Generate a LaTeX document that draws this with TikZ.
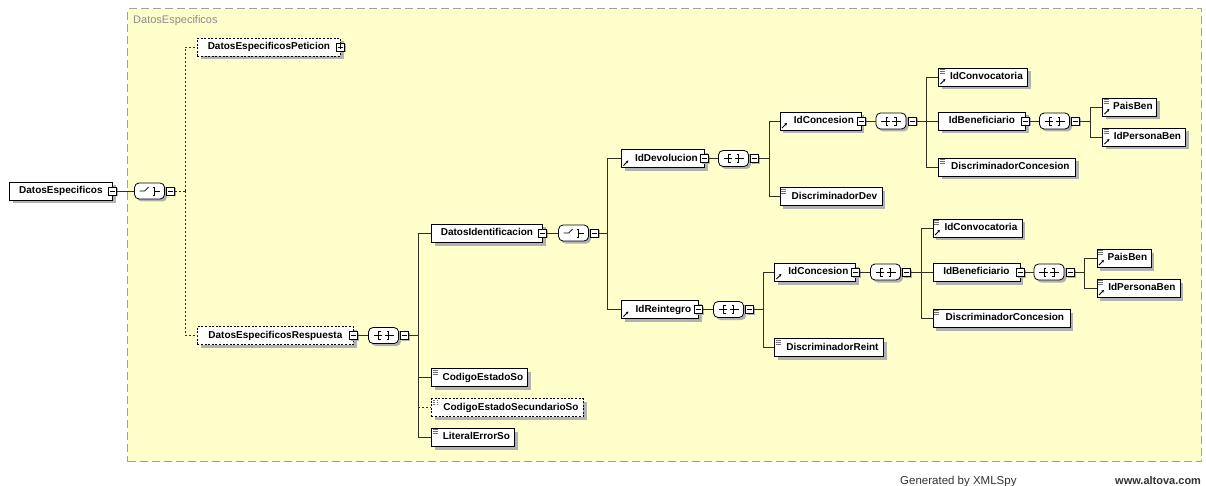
\documentclass[tikz,border=0pt]{standalone}
\usepackage{fontspec}
\setmainfont{Liberation Sans}
\usepackage{tikz}
\usetikzlibrary{positioning,shadows,arrows.meta}
\definecolor{XSDYellow}{RGB}{255,255,204}
\definecolor{XSDFrame}{RGB}{160,160,160}
\definecolor{XSDShadow}{RGB}{178,178,178}
\definecolor{XSDLine}{RGB}{48,48,40}
\definecolor{XSDTitle}{RGB}{140,140,140}
\definecolor{XSDFoot}{RGB}{50,50,50}

% iconos de las cajas
\newcommand{\simpleicon}{%
  \draw[XSDFrame!70!black, line width=0.7pt] (path picture bounding box.north west)
    ++(1.5,1.5) -- ++(5,0) ++(-5,2) -- ++(5,0) ++(-5,2) -- ++(5,0);}
\newcommand{\reficon}{%
  \draw[black, line width=0.9pt, -{Stealth[length=2.6pt,width=2.8pt]}]
    (path picture bounding box.south west) ++(2,-2) -- ++(5,-5);}
% simbolos de compositor
\newcommand{\seqicon}{%
  \coordinate (sc) at (path picture bounding box.center);
  \draw[sharp corners, line width=0.7pt] (sc) +(-10,0) -- +(10,0);
  \draw[sharp corners, line width=0.7pt] (sc) +(-3,-4) -- +(-5,-4) -- +(-5,4) -- +(-3,4);
  \draw[sharp corners, line width=0.7pt] (sc) +(3,-4) -- +(5,-4) -- +(5,4) -- +(3,4);
  \fill[sharp corners] (sc) +(-1.1,-4.2) rectangle +(1.1,-2.0);
  \fill[sharp corners] (sc) +(-1.1,-1.1) rectangle +(1.1,1.1);
  \fill[sharp corners] (sc) +(-1.1,2.0) rectangle +(1.1,4.2);}
\newcommand{\choiceicon}{%
  \coordinate (sc) at (path picture bounding box.center);
  \draw[sharp corners, line width=0.7pt] (sc) +(-10,0) -- +(-5,0) -- +(-1,-4);
  \draw[sharp corners, line width=0.7pt] (sc) +(3,-4) -- +(5,-4) -- +(5,4) -- +(3,4);
  \draw[sharp corners, line width=0.7pt] (sc) +(5,0) -- +(10,0);
  \fill[sharp corners] (sc) +(0.4,-4.2) rectangle +(2.6,-2.0);
  \fill[sharp corners] (sc) +(0.4,-1.1) rectangle +(2.6,1.1);
  \fill[sharp corners] (sc) +(0.4,2.0) rectangle +(2.6,4.2);}

\tikzset{
    elem/.style={draw=black, fill=white, line width=0.8pt, anchor=west,
        minimum height=18pt, inner sep=0pt, text height=7.4pt, text depth=2pt,
        font=\bfseries\fontsize{10}{12}\selectfont,
        general shadow={fill=XSDShadow, shadow xshift=3.5pt, shadow yshift=-3.5pt}},
    optelem/.style={elem, dash pattern=on 2pt off 1.6pt},
    simpleel/.style={path picture={\simpleicon}, execute at begin node={\hspace*{7pt}}},
    refel/.style={path picture={\reficon}, execute at begin node={\hspace*{7pt}}},
    simplerefel/.style={path picture={\simpleicon\reficon}, execute at begin node={\hspace*{7pt}}},
    mbox/.style={draw=black, fill=white, line width=0.7pt, minimum size=8pt, inner sep=0pt,
        general shadow={fill=XSDShadow, shadow xshift=1.5pt, shadow yshift=-1.5pt},
        path picture={\draw[line width=0.7pt] (path picture bounding box.center) +(-2.5,0) -- +(2.5,0);}},
    pbox/.style={mbox,
        path picture={\draw[line width=0.7pt] (path picture bounding box.center)
            +(-2.5,0) -- +(2.5,0) +(0,-2.5) -- +(0,2.5);}},
    comp/.style={rectangle, rounded corners=4.5pt,
        draw=black, fill=white, line width=0.8pt, minimum width=30pt, minimum height=16pt, inner sep=0pt,
        general shadow={fill=XSDShadow, shadow xshift=2.5pt, shadow yshift=-2.5pt}},
    seqcomp/.style={comp, path picture={\seqicon}},
    choicecomp/.style={comp, path picture={\choiceicon}},
    groupbox/.style={draw=XSDFrame, fill=XSDYellow, line width=1.2pt, dash pattern=on 8pt off 4pt, inner sep=0pt},
    grouptitle/.style={anchor=base west, inner sep=0pt, text=XSDTitle, font=\fontsize{11}{12}\selectfont},
    footer/.style={anchor=base west, inner sep=0pt, text=XSDFoot, font=\fontsize{11.5}{13}\selectfont}
}

\begin{document}
\begin{tikzpicture}[x=1pt, y=-1pt,
        link/.style={draw=XSDLine, line width=0.8pt},
        optlink/.style={link, dash pattern=on 2pt off 2pt}]

    \useasboundingbox (0,0) rectangle (1206,486);

    % --- CAJA DEL TIPO ---
    \node[groupbox, anchor=north west, minimum width=1074pt, minimum height=453pt] (grp) at (127,8) {};
    \node[grouptitle] (grpname) at (133,24) {DatosEspecificos};

    % --- RAIZ ---
    \node[elem, minimum width=103pt] (root) at (9,191) {DatosEspecificos};
    \node[mbox] (rootm) at (root.east) {};
    \node[choicecomp, right=17pt of rootm] (rootc) {};
    \node[mbox, right=1.5pt of rootc] (rootcm) {};

    \node[optelem, minimum width=143pt] (pet) at (197,47) {DatosEspecificosPeticion};
    \node[pbox] (petp) at (pet.east) {};
    \node[optelem, minimum width=156pt] (resp) at (197,335.5) {DatosEspecificosRespuesta};
    \node[mbox] (respm) at (resp.east) {};
    \node[seqcomp, right=10pt of respm] (respc) {};
    \node[mbox, right=1.5pt of respc] (respcm) {};

    % --- HIJOS DE LA RESPUESTA ---
    \node[elem, minimum width=111pt] (ident) at (431,233) {DatosIdentificacion};
    \node[mbox] (identm) at (ident.east) {};
    \node[choicecomp, right=11pt of identm] (identc) {};
    \node[mbox, right=1.5pt of identc] (identcm) {};
    \node[elem, simpleel, minimum width=96pt] (codEst) at (431,377.7) {CodigoEstadoSo};
    \node[optelem, simpleel, minimum width=152pt] (codSec) at (431,407.5) {CodigoEstadoSecundarioSo};
    \node[elem, simpleel, minimum width=83pt] (litErr) at (431,437.2) {LiteralErrorSo};

    % --- DEVOLUCION / REINTEGRO ---
    \node[elem, refel, minimum width=83pt] (dev) at (621,158.5) {IdDevolucion};
    \node[mbox] (devm) at (dev.east) {};
    \node[seqcomp, right=9pt of devm] (devc) {};
    \node[mbox, right=1.5pt of devc] (devcm) {};
    \node[elem, simpleel, minimum width=102pt] (discDev) at (779.5,196.7) {DiscriminadorDev};

    \node[elem, refel, minimum width=77pt] (reint) at (621,309.5) {IdReintegro};
    \node[mbox] (reintm) at (reint.east) {};
    \node[seqcomp, right=10pt of reintm] (reintc) {};
    \node[mbox, right=1.5pt of reintc] (reintcm) {};
    \node[elem, simpleel, minimum width=109pt] (discReint) at (774,347.5) {DiscriminadorReint};

    % --- IdConcesion (dos veces) ---
    \foreach \s/\dx/\dy in {A/0/0, B/-5.5/151} {
        \begin{scope}[shift={(\dx,\dy)}]
            \node[elem, refel, minimum width=81pt] (conc\s) at (779.5,121) {IdConcesion};
            \node[mbox] (concm\s) at (conc\s.east) {};
            \node[seqcomp, right=10pt of concm\s] (concc\s) {};
            \node[mbox, right=1.5pt of concc\s] (conccm\s) {};
            \node[elem, simplerefel, minimum width=89pt] (conv\s) at (938,77) {IdConvocatoria};
            \node[elem, minimum width=87pt] (ben\s) at (938,121) {IdBeneficiario};
            \node[mbox] (benm\s) at (ben\s.east) {};
            \node[seqcomp, right=9pt of benm\s] (benc\s) {};
            \node[mbox, right=1.5pt of benc\s] (bencm\s) {};
            \node[elem, simpleel, minimum width=137pt] (discConc\s) at (938,167) {DiscriminadorConcesion};
            \node[elem, simplerefel, minimum width=54pt] (pais\s) at (1102,107) {PaisBen};
            \node[elem, simplerefel, minimum width=83pt] (pers\s) at (1102,137) {IdPersonaBen};

            \draw[link] (concm\s) -- (concc\s);
            \draw[link] (conccm\s.east) -- ++(10,0) coordinate (concbus\s);
            \foreach \kid in {conv, ben, discConc}
                \draw[link] (concbus\s) |- (\kid\s.west);
            \draw[link] (benm\s) -- (benc\s);
            \draw[link] (bencm\s.east) -- ++(10,0) coordinate (benbus\s);
            \foreach \kid in {pais, pers}
                \draw[link] (benbus\s) |- (\kid\s.west);
        \end{scope}
    }

    % --- CONECTORES ---
    \draw[link] (rootm) -- (rootc);
    \draw[optlink] (rootcm.east) -- ++(10,0) coordinate (rootbus);
    \foreach \kid in {pet, resp}
        \draw[optlink] (rootbus) |- (\kid.west);

    \draw[link] (respm) -- (respc);
    \draw[link] (respcm.east) -- ++(9,0) coordinate (respbus);
    \foreach \kid in {ident, codEst, litErr}
        \draw[link] (respbus) |- (\kid.west);
    \draw[optlink] (respbus) |- (codSec.west);

    \draw[link] (identm) -- (identc);
    \draw[link] (identcm.east) -- ++(8,0) coordinate (identbus);
    \foreach \kid in {dev, reint}
        \draw[link] (identbus) |- (\kid.west);

    \draw[link] (devm) -- (devc);
    \draw[link] (devcm.east) -- ++(10,0) coordinate (devbus);
    \foreach \kid in {concA, discDev}
        \draw[link] (devbus) |- (\kid.west);

    \draw[link] (reintm) -- (reintc);
    \draw[link] (reintcm.east) -- ++(9,0) coordinate (reintbus);
    \foreach \kid in {concB, discReint}
        \draw[link] (reintbus) |- (\kid.west);

    % --- PIE ---
    \node[footer] (gen) at (900,484) {Generated by XMLSpy};
    \node[footer, font=\bfseries\fontsize{11}{13}\selectfont] (url) at (1115,484) {www.altova.com};

\end{tikzpicture}
\end{document}
